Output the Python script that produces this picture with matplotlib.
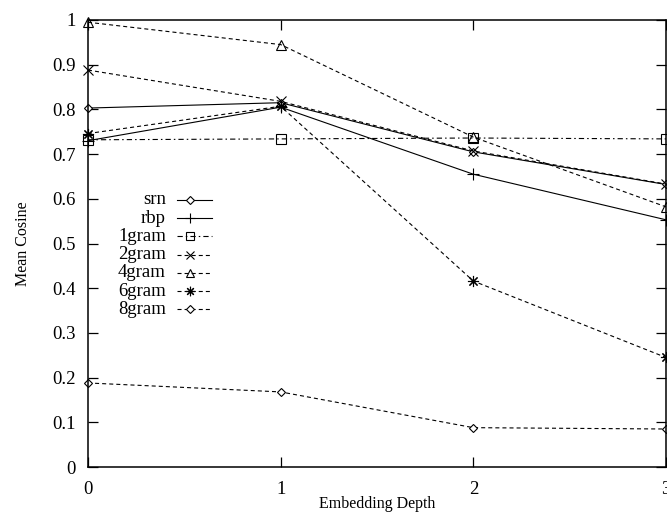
import matplotlib
matplotlib.use("Agg")
import matplotlib.pyplot as plt
from matplotlib.lines import Line2D

plt.rcParams['font.family'] = ['Liberation Serif', 'DejaVu Serif']
plt.rcParams['lines.scale_dashes'] = False

depth = [0, 1, 2, 3]
series_names = ["srn", "rbp", "1gram", "2gram", "4gram", "6gram", "8gram"]
srn = [0.803, 0.815, 0.705, 0.632]
rbp = [0.730, 0.805, 0.655, 0.553]
gram1 = [0.732, 0.734, 0.736, 0.734]
gram2 = [0.888, 0.818, 0.707, 0.633]
gram4 = [0.995, 0.945, 0.738, 0.582]
gram6 = [0.746, 0.807, 0.416, 0.245]
gram8 = [0.188, 0.168, 0.088, 0.085]
values = [srn, rbp, gram1, gram2, gram4, gram6, gram8]

x_ticks = [0, 1, 2, 3]
y_ticks = [0, 0.1, 0.2, 0.3, 0.4, 0.5, 0.6, 0.7, 0.8, 0.9, 1.0]
y_tick_labels = ["0", "0.1", "0.2", "0.3", "0.4", "0.5", "0.6", "0.7", "0.8", "0.9", "1"]

dotted = (0, (2.9, 2.2))
dashdot = (0, (3.8, 2.2, 1.1, 2.2))
styles = [
    dict(ls='-', marker='D', ms=4.5, mfc='white'),
    dict(ls='-', marker='+', ms=8),
    dict(ls=dashdot, marker='s', ms=6.5, mfc='none'),
    dict(ls=dotted, marker='x', ms=6.5),
    dict(ls=dotted, marker='^', ms=6.5, mfc='none'),
    dict(ls=dotted, marker=(8, 2, 0), ms=8),
    dict(ls=dotted, marker='D', ms=4.5, mfc='white'),
]

fig = plt.figure(figsize=(6.67, 5.12), dpi=100)
ax = fig.add_axes([88/667, 1-467/512, 578/667, 447/512])

for name, vals, st in zip(series_names, values, styles):
    ax.plot(depth, vals, color='black', lw=0.8, mew=0.8, clip_on=False,
            linestyle=st['ls'], marker=st['marker'], ms=st['ms'],
            mfc=st.get('mfc', 'black'), mec='black')

ax.set_xlim(0, 3)
ax.set_ylim(0, 1)
ax.set_xticks(x_ticks)
ax.set_xticklabels([str(t) for t in x_ticks])
ax.set_yticks(y_ticks)
ax.set_yticklabels(y_tick_labels)
ax.tick_params(direction='in', length=7, width=0.9, top=True, right=True,
               labelsize=13.5, pad=9)
ax.tick_params(axis='x', pad=10)
for s in ax.spines.values():
    s.set_linewidth(1.1)
ax.set_xlabel("Embedding Depth", fontsize=11.5, labelpad=-1)
ax.set_ylabel("Mean Cosine", fontsize=11.5, labelpad=15)

# gnuplot-style key: labels right-aligned, sample on the right
x_text = (166-88)/578
x0, x1 = (177-88)/578, (212-88)/578
y_top = (467-200)/447
step = 18.2/447
for i, (name, st) in enumerate(zip(series_names, styles)):
    y = y_top - i*step
    ax.text(x_text, y, name, transform=ax.transAxes, ha='right', va='center',
            fontsize=13.5)
    ax.add_line(Line2D([x0, x1], [y, y], transform=ax.transAxes, color='black',
                       lw=0.8, linestyle=st['ls']))
    ax.add_line(Line2D([(x0+x1)/2 - 0.008], [y], transform=ax.transAxes, color='black',
                       lw=0, marker=st['marker'], ms=st['ms']*0.85, mew=0.8,
                       mfc=st.get('mfc', 'black'), mec='black'))

fig.savefig("out.png", dpi=100)
